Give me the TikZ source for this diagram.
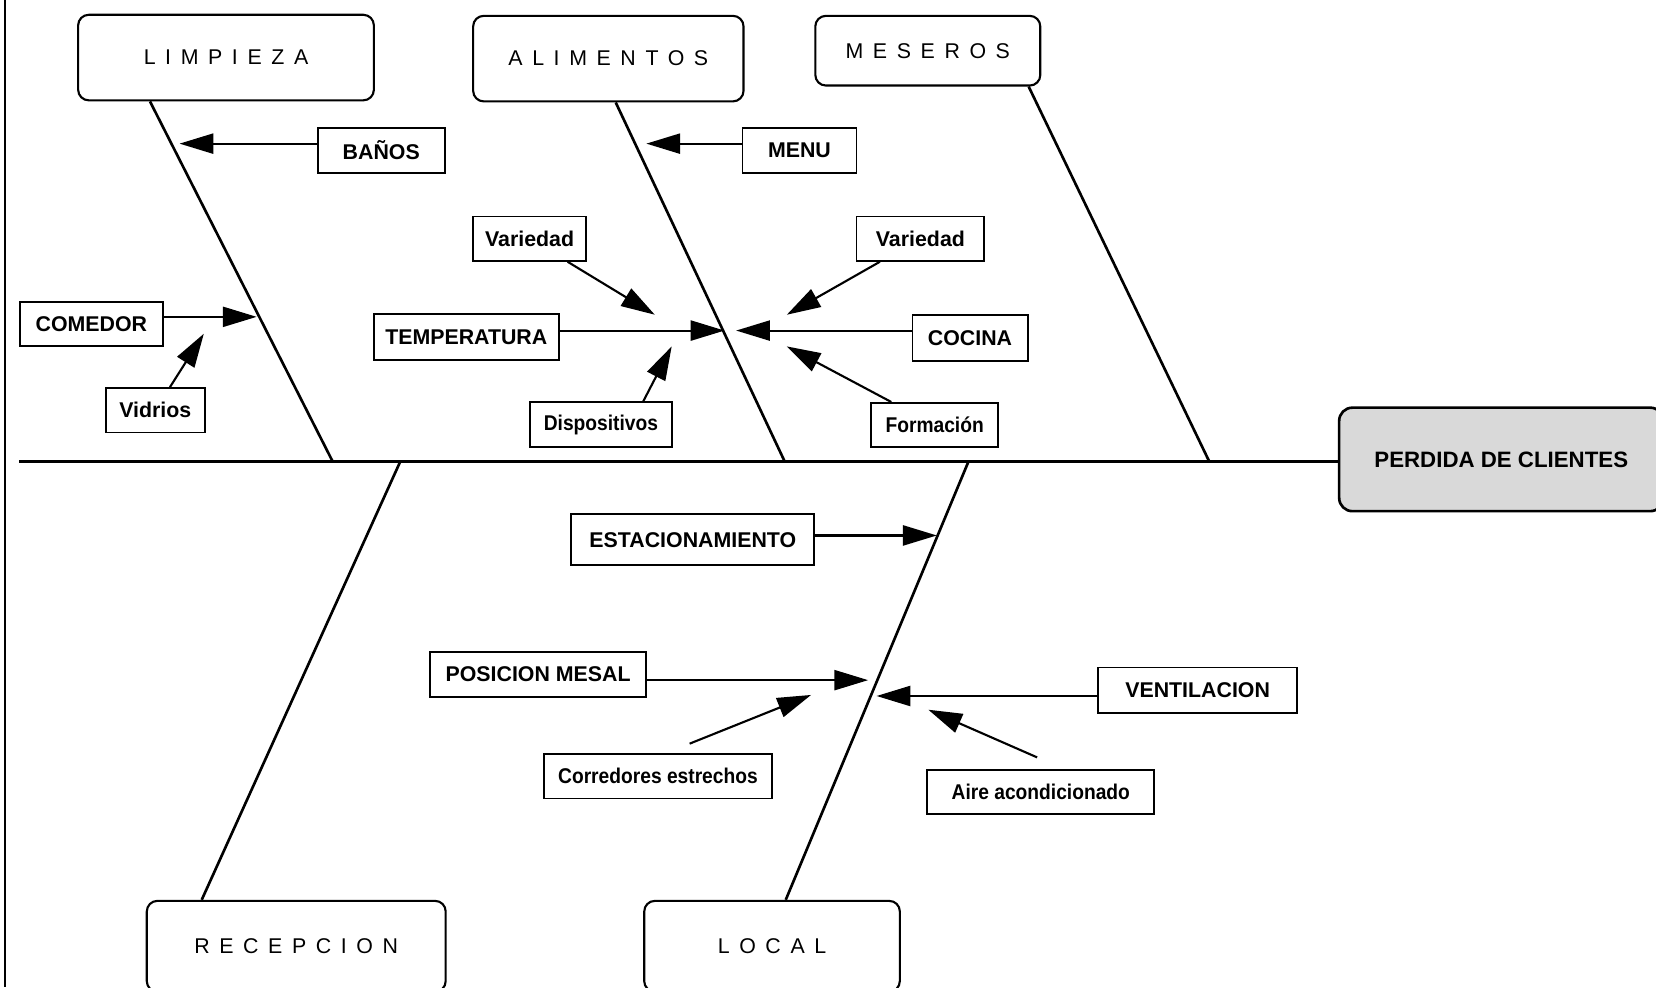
\documentclass[tikz,border=0pt]{standalone}
\usepackage{fontspec}
\setmainfont{Liberation Sans}
\usetikzlibrary{arrows.meta,calc}

\tikzset{
  category/.style={draw, line width=0.4mm, rounded corners=2mm, inner sep=0pt,
    font=\fontsize{11.5}{13}\selectfont\addfontfeature{LetterSpace=45}},
  cause/.style={draw, line width=0.35mm, inner sep=0pt, minimum height=8.4mm,
    font=\fontsize{11.5}{13}\selectfont\bfseries},
  narrow/.style={font=\fontsize{11.5}{13}\selectfont\bfseries\addfontfeature{FakeStretch=0.9}},
  effect/.style={draw, line width=0.5mm, rounded corners=2.5mm, fill=gray!30, inner sep=0pt,
    font=\fontsize{12}{14}\selectfont\bfseries},
  bone/.style={line width=0.5mm},
  branch/.style={line width=0.4mm, -{Triangle[length=6.4mm,width=3.8mm]}},
}

\begin{document}
\begin{tikzpicture}[x=0.2mm,y=-0.2mm]
    \useasboundingbox (0,0) rectangle (1568,935);
    \clip (0,0) rectangle (1568,935);
    \draw[line width=0.3mm] (5,0) -- (5,935);

    % main categories
    \node[category, minimum width=56mm, minimum height=16.2mm] (limpieza) at (214,54.5) {LIMPIEZA};
    \node[category, minimum width=51.2mm, minimum height=16.2mm] (alimentos) at (576,55.5) {ALIMENTOS};
    \node[category, minimum width=42.6mm, minimum height=13.2mm] (meseros) at (878.5,48) {MESEROS};
    \node[category, minimum width=56.6mm, minimum height=17.2mm] (recepcion) at (280.5,896) {RECEPCION};
    \node[category, minimum width=48.4mm, minimum height=17.2mm] (local) at (731,896) {LOCAL};

    % effect
    \node[effect, minimum width=61.4mm, minimum height=19.6mm] (perdida) at (1421.5,435) {PERDIDA DE CLIENTES};

    % spine and bones
    \coordinate (tail) at (18,437);
    \draw[bone] (tail) -- (tail -| perdida.west);
    \coordinate (hL) at (315,437);
    \coordinate (hA) at (743,437);
    \coordinate (hM) at (1145,437);
    \coordinate (hR) at (379,437);
    \coordinate (hLo) at (917,437);
    \draw[bone] ($(limpieza.south west)+(69,0)$) -- (hL);
    \draw[bone] ($(alimentos.south west)+(136,0)$) -- (hA);
    \draw[bone] ($(meseros.south east)+(-12,0)$) -- (hM);
    \draw[bone] ($(recepcion.north west)+(53,0)$) -- (hR);
    \draw[bone] ($(local.north west)+(135,0)$) -- (hLo);

    % causes
    \node[cause, minimum width=24mm] (banos) at (361,142.5) {BAÑOS};
    \node[cause, minimum width=21.6mm] (menu) at (757,142.5) {MENU};
    \node[cause, minimum width=21.4mm] (varL) at (501.5,226) {Variedad};
    \node[cause, minimum width=24.2mm] (varR) at (871.5,226) {Variedad};
    \node[cause, minimum width=35mm, minimum height=8.8mm] (temp) at (441.5,319) {TEMPERATURA};
    \node[cause, minimum width=21.8mm, minimum height=8.8mm] (cocina) at (918.5,320) {COCINA};
    \node[cause, narrow, minimum width=26.8mm] (disp) at (569,402) {Dispositivos};
    \node[cause, narrow, minimum width=24mm] (form) at (885,402.5) {Formación};
    \node[cause, minimum width=27mm] (comedor) at (86.5,307) {COMEDOR};
    \node[cause, minimum width=18.8mm] (vidrios) at (147,388.5) {Vidrios};
    \node[cause, minimum width=46mm, minimum height=9.6mm] (estac) at (656,511) {ESTACIONAMIENTO};
    \node[cause, minimum width=41mm, minimum height=8.6mm] (posicion) at (509.5,638.5) {POSICION MESAL};
    \node[cause, minimum width=37.6mm, minimum height=8.6mm] (ventil) at (1134,653.5) {VENTILACION};
    \node[cause, narrow, minimum width=43.2mm] (corred) at (623,735) {Corredores estrechos};
    \node[cause, narrow, minimum width=43mm] (aire) at (985.5,750) {Aire acondicionado};

    % arrow tips
    \coordinate (tBan) at (170,136);
    \coordinate (tMenu) at (612,136);
    \coordinate (tCom) at (243,300);
    \coordinate (tVid) at (193,316);
    \coordinate (tVarL) at (620,298);
    \coordinate (tVarR) at (745,298);
    \coordinate (tTemp) at (686,313);
    \coordinate (tCoc) at (697,313);
    \coordinate (tDis) at (636,328);
    \coordinate (tFor) at (745,328);
    \coordinate (tEst) at (887,507);
    \coordinate (tPos) at (822,644);
    \coordinate (tVen) at (830,659);
    \coordinate (tCor) at (768,658);
    \coordinate (tAir) at (879,672);

    \draw[branch] (banos.west |- tBan) -- (tBan);
    \draw[branch] (menu.west |- tMenu) -- (tMenu);
    \draw[branch] (comedor.east |- tCom) -- (tCom);
    \draw[branch] (vidrios) -- (tVid);
    \draw[branch] (varL) -- (tVarL);
    \draw[branch] (varR) -- (tVarR);
    \draw[branch] (temp.east |- tTemp) -- (tTemp);
    \draw[branch] (cocina.west |- tCoc) -- (tCoc);
    \draw[branch] ([xshift=8mm]disp.north) -- (tDis);
    \draw[branch] (form) -- (tFor);
    \draw[branch] (estac.east |- tEst) -- (tEst);
    \draw[branch] (posicion.east |- tPos) -- (tPos);
    \draw[branch] (ventil.west |- tVen) -- (tVen);
    \draw[branch] ([xshift=6mm,yshift=1.8mm]corred.north) -- (tCor);
    \draw[branch] ([xshift=-0.7mm,yshift=2.2mm]aire.north) -- (tAir);
\end{tikzpicture}
\end{document}
